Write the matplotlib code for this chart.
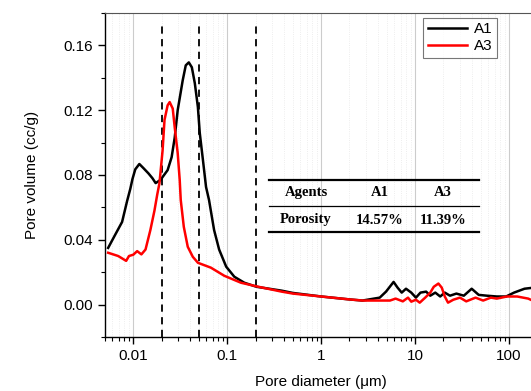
import matplotlib
matplotlib.use("Agg")
import matplotlib.pyplot as plt
from matplotlib.ticker import LogLocator, FixedLocator, MultipleLocator, NullFormatter

plt.rcParams['font.family'] = ['Liberation Sans', 'DejaVu Sans']

# A1 (black)
a1_x = [0.0054, 0.0064, 0.0076, 0.0086, 0.0093, 0.0098, 0.0105, 0.0116, 0.0128, 0.0145,
        0.0160, 0.0173, 0.0195, 0.0232, 0.0256, 0.0276, 0.0297, 0.0336, 0.0362, 0.0390,
        0.0420, 0.0452, 0.0487, 0.0510, 0.0552, 0.0595, 0.0640, 0.0725, 0.0820, 0.0975,
        0.119, 0.152, 0.205, 0.38, 0.5, 1.0, 2.0, 2.75, 4.2, 4.9, 5.9, 6.5, 7.2, 8.0,
        9.1, 10.2, 11.4, 13.1, 14.5, 16.4, 18.5, 20.7, 23.5, 27.5, 33.0, 40.0, 47.5,
        58.0, 74.0, 93.0, 113.0, 146.0, 185.0]
a1_y = [0.035, 0.043, 0.051, 0.064, 0.0715, 0.0775, 0.0835, 0.0868, 0.0843, 0.081,
        0.078, 0.075, 0.077, 0.083, 0.091, 0.103, 0.120, 0.1385, 0.1477, 0.1495,
        0.1465, 0.1366, 0.122, 0.106, 0.089, 0.0726, 0.0646, 0.046, 0.034, 0.0234,
        0.0172, 0.0135, 0.011, 0.0086, 0.0072, 0.005, 0.0032, 0.0025, 0.0043, 0.008,
        0.014, 0.0105, 0.0074, 0.0098, 0.0074, 0.0043, 0.0074, 0.008, 0.0055, 0.0074,
        0.005, 0.0074, 0.0055, 0.0068, 0.0055, 0.0098, 0.006, 0.0055, 0.005, 0.005,
        0.0074, 0.0098, 0.0105]

# A3 (red)
a3_x = [0.0054, 0.0069, 0.0084, 0.0090, 0.0100, 0.0110, 0.0122, 0.0135, 0.0152, 0.0168,
        0.0180, 0.0190, 0.0205, 0.0215, 0.0232, 0.0244, 0.0263, 0.0276, 0.0297, 0.0312,
        0.0320, 0.0345, 0.0380, 0.0430, 0.0488, 0.0670, 0.093, 0.140, 0.215, 0.38,
        0.5, 1.0, 2.0, 2.75, 4.2, 5.4, 6.2, 7.4, 8.4, 9.1, 10.2, 11.2, 12.8, 14.5,
        15.8, 17.7, 19.2, 20.7, 22.4, 25.5, 30.0, 35.0, 44.0, 53.0, 64.0, 74.0, 95.0,
        122.0, 160.0, 185.0]
a3_y = [0.032, 0.030, 0.027, 0.030, 0.0308, 0.033, 0.031, 0.034, 0.046, 0.058,
        0.068, 0.075, 0.095, 0.114, 0.123, 0.125, 0.121, 0.1095, 0.0935, 0.077,
        0.0646, 0.048, 0.0357, 0.0295, 0.0258, 0.0228, 0.0178, 0.0135, 0.011, 0.008,
        0.0068, 0.005, 0.0032, 0.0025, 0.0025, 0.0025, 0.0037, 0.002, 0.0043, 0.0018,
        0.003, 0.0012, 0.0043, 0.0074, 0.011, 0.013, 0.0105, 0.005, 0.0012, 0.003,
        0.0043, 0.002, 0.0043, 0.0025, 0.0043, 0.0037, 0.005, 0.005, 0.0037, 0.002]

dash_x = [0.02, 0.05, 0.2]

agents = ["Agents", "A1", "A3"]
porosity = ["Porosity", "14.57%", "11.39%"]

fig = plt.figure(figsize=(5.31, 3.91), dpi=100)
ax = fig.add_axes([105/531, (391-337)/391, (531-105)/531 + 0.01, (337-13)/391])

ax.set_xscale('log')
ax.set_xlim(0.005, 195)
ax.set_ylim(-0.02, 0.18)

ax.grid(True, which='major', axis='x', color='#cccccc', linewidth=0.8)
ax.grid(True, which='minor', axis='x', color='#e8e8e8', linewidth=0.6, linestyle=':')
ax.set_axisbelow(True)

for xv in dash_x:
    ax.plot([xv, xv], [-0.02, 0.174], color='black', linestyle=(0, (4, 3)), linewidth=1.3, zorder=2)

ax.plot(a1_x, a1_y, color='black', linewidth=1.8, label='A1', zorder=3,
        solid_joinstyle='round')
ax.plot(a3_x, a3_y, color='#ff0000', linewidth=1.8, label='A3', zorder=3,
        solid_joinstyle='round')

ax.yaxis.set_major_locator(FixedLocator([0.0, 0.04, 0.08, 0.12, 0.16]))
ax.yaxis.set_minor_locator(MultipleLocator(0.02))
ax.set_yticklabels(['0.00', '0.04', '0.08', '0.12', '0.16'])
ax.xaxis.set_minor_locator(LogLocator(base=10, subs=range(2, 10), numticks=20))
ax.xaxis.set_minor_formatter(NullFormatter())
ax.set_xticks([0.01, 0.1, 1, 10, 100])
ax.set_xticklabels(['0.01', '0.1', '1', '10', '100'])

ax.tick_params(axis='both', which='major', direction='out', length=5, width=1.0, labelsize=11)
ax.tick_params(axis='both', which='minor', direction='out', length=3, width=0.8)

for s in ['left', 'bottom']:
    ax.spines[s].set_linewidth(1.0)
ax.spines['top'].set_color('#555555')
ax.spines['right'].set_visible(False)

ax.set_xlabel('Pore diameter (μm)', fontsize=11, labelpad=9)
ax.set_ylabel('Pore volume (cc/g)', fontsize=11, labelpad=18)

leg = ax.legend(loc='upper left', bbox_to_anchor=((420-105)/(531-105+5.3), 0.995), fontsize=11,
                frameon=True, fancybox=False, edgecolor='#555555', handlelength=2.6,
                borderpad=0.3, labelspacing=0.2, handletextpad=0.4, borderaxespad=0.2)
leg.get_frame().set_linewidth(0.8)

# Table
def fx(px):
    return px / 531
def fy(py):
    return (391 - py) / 391

for py in [180, 232]:
    fig.add_artist(plt.Line2D([fx(269), fx(479)], [fy(py), fy(py)], color='black', linewidth=1.6))
fig.add_artist(plt.Line2D([fx(269), fx(479)], [fy(206), fy(206)], color='black', linewidth=0.9))

col_x = [fx(306), fx(380), fx(443)]
for cx, t in zip(col_x, agents):
    fig.text(cx, fy(193), t, ha='center', va='center', fontsize=10.5, fontweight='bold',
             family='Liberation Serif')
for cx, t in zip(col_x, porosity):
    fig.text(cx, fy(220), t, ha='center', va='center', fontsize=10.5, fontweight='bold',
             family='Liberation Serif')

fig.savefig('out.png', dpi=100)
